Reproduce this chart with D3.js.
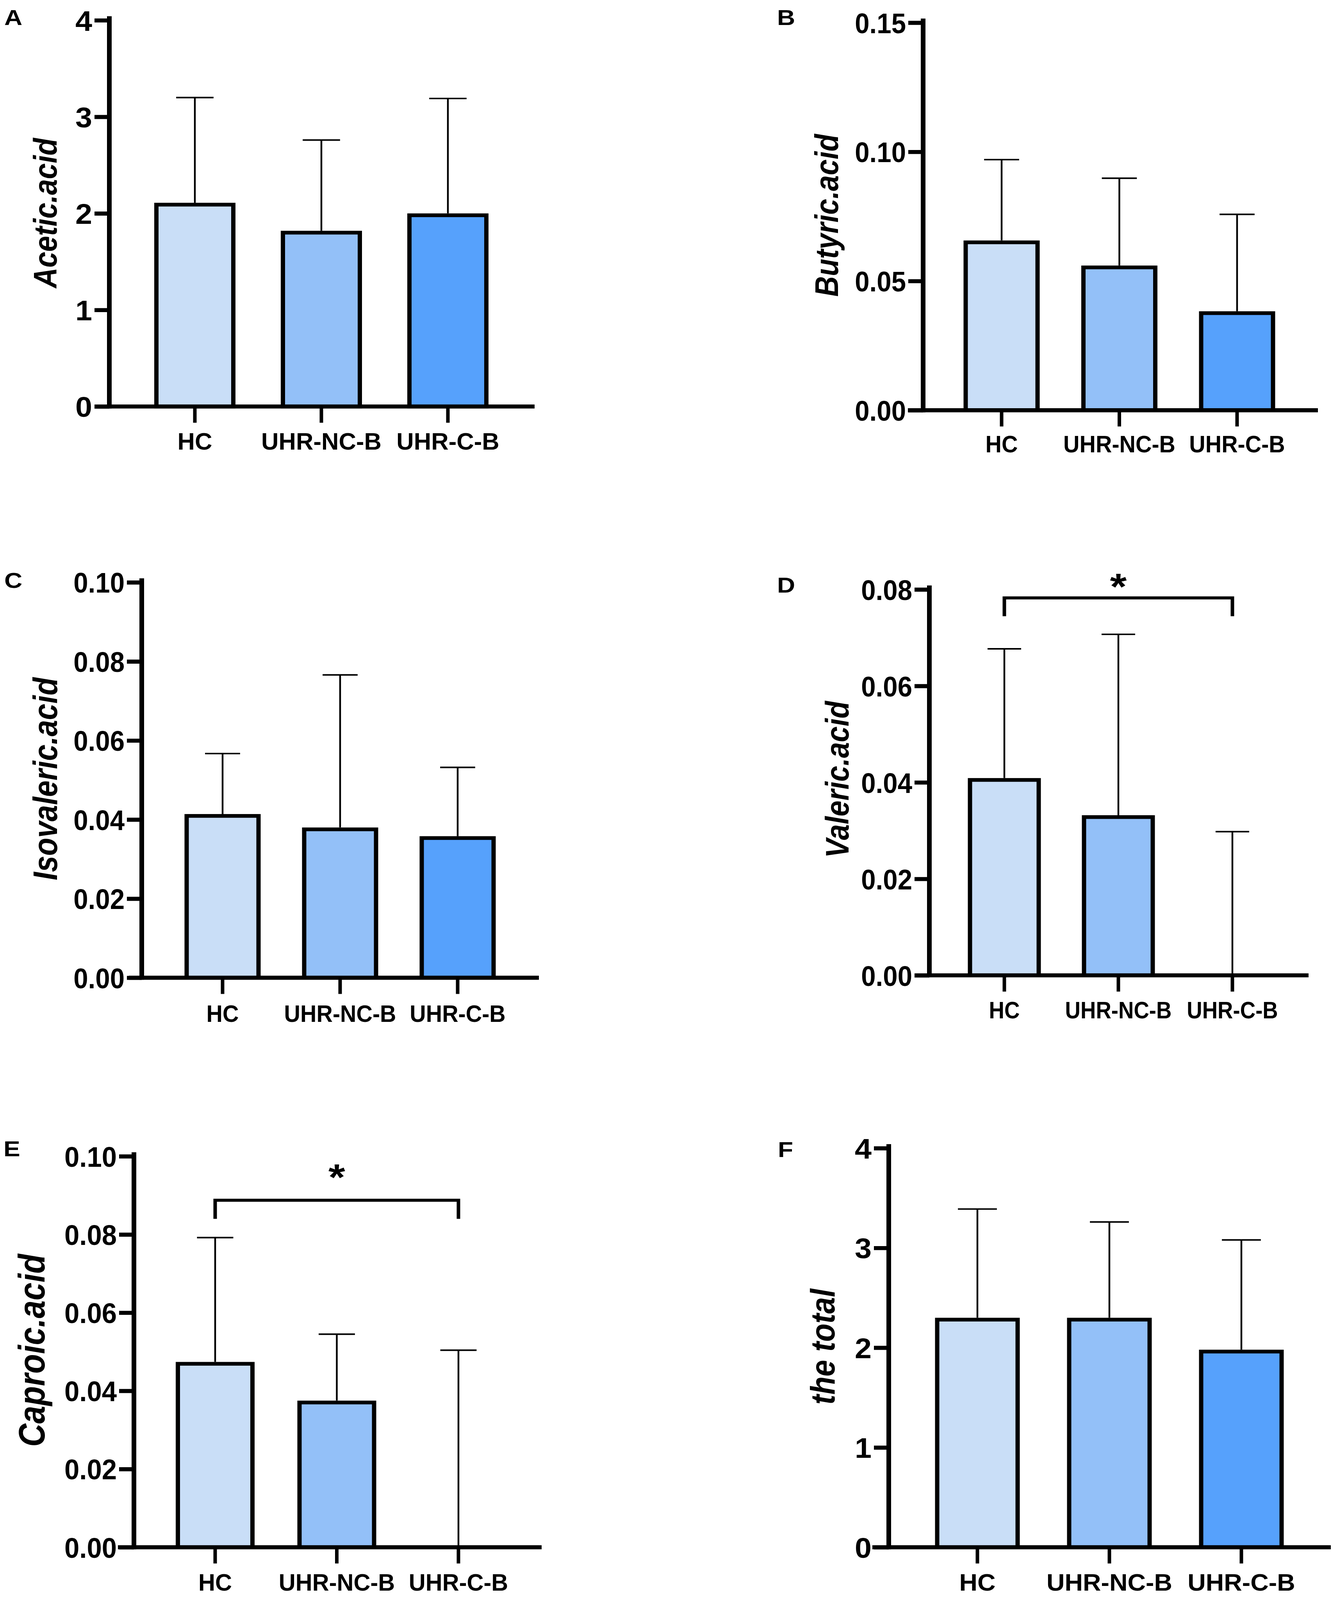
<!DOCTYPE html>
<html>
<head>
<meta charset="utf-8">
<script src="https://cdn.jsdelivr.net/npm/d3@7"></script>
<style>
  html, body { margin: 0; padding: 0; background: #ffffff; overflow: hidden; }
  svg { display: block; }
</style>
</head>
<body>
<script>
// ---------------- data ----------------
const categories = ["HC", "UHR-NC-B", "UHR-C-B"];
const barColors = ["#c9def7", "#93c0f8", "#56a1fc"];

const aceticMean = [2.11, 1.82, 2.00];
const aceticSD = [1.09, 0.94, 1.19];
const aceticTicks = [0, 1, 2, 3, 4];

const butyricMean = [0.0657, 0.0560, 0.0383];
const butyricSD = [0.0313, 0.0338, 0.0375];
const butyricTicks = [0, 0.05, 0.10, 0.15];

const isovalericMean = [0.0414, 0.0380, 0.0358];
const isovalericSD = [0.0153, 0.0386, 0.0174];
const isovalericTicks = [0, 0.02, 0.04, 0.06, 0.08, 0.10];

const valericMean = [0.0409, 0.0332, 0];
const valericSD = [0.0268, 0.0375, 0.0298];
const valericTicks = [0, 0.02, 0.04, 0.06, 0.08];

const caproicMean = [0.0474, 0.0375, 0];
const caproicSD = [0.0318, 0.0170, 0.0504];
const caproicTicks = [0, 0.02, 0.04, 0.06, 0.08, 0.10];

const totalMean = [2.30, 2.30, 1.98];
const totalSD = [1.09, 0.96, 1.10];
const totalTicks = [0, 1, 2, 3, 4];

// significance brackets: [fromCategory, toCategory, label]
const valericSig = ["HC", "UHR-C-B", "*"];
const caproicSig = ["HC", "UHR-C-B", "*"];

// ---------------- layout (design pixels, reference is 3429 x 4731) ----------------
const W = 3429, H = 4731;
const panels = [
  { letter: "A", title: "Acetic.acid", mean: aceticMean, sd: aceticSD, ticks: aceticTicks, fmt: "d",
    letterX: 11, letterY: 74, axisX: 280, yTop: 60, y0: 1202, xStart: 242, xEnd: 1369,
    c0: 499, c2: 1147, barW: 208, titleX: 115, titleY: 630, titleFont: 84, catY: 1329,
    tickSq: 0.92, catSq: 0.88 },
  { letter: "B", title: "Butyric.acid", mean: butyricMean, sd: butyricSD, ticks: butyricTicks, fmt: ".2f",
    letterX: 1990, letterY: 74, axisX: 2364, yTop: 67, y0: 1213, xStart: 2325, xEnd: 3375,
    c0: 2565, c2: 3168, barW: 195, titleX: 2116, titleY: 637, titleFont: 84, catY: 1338,
    tickSq: 0.8, catSq: 0.82 },
  { letter: "C", title: "Isovaleric.acid", mean: isovalericMean, sd: isovalericSD, ticks: isovalericTicks, fmt: ".2f",
    letterX: 11, letterY: 1738, axisX: 363, yTop: 1722, y0: 2891, xStart: 330, xEnd: 1380,
    c0: 570, c2: 1172, barW: 195, titleX: 115, titleY: 2303, titleFont: 87, catY: 3021,
    tickSq: 0.8, catSq: 0.82 },
  { letter: "D", title: "Valeric.acid", mean: valericMean, sd: valericSD, ticks: valericTicks, fmt: ".2f",
    letterX: 1990, letterY: 1752, axisX: 2380, yTop: 1743, y0: 2884, xStart: 2342, xEnd: 3351,
    c0: 2572, c2: 3156, barW: 187, titleX: 2143, titleY: 2305, titleFont: 84, catY: 3011,
    tickSq: 0.8, catSq: 0.78,
    sig: valericSig, sigY: 1768, sigDrop: 54, starY: 1710 },
  { letter: "E", title: "Caproic.acid", mean: caproicMean, sd: caproicSD, ticks: caproicTicks, fmt: ".2f",
    letterX: 9, letterY: 3419, axisX: 343, yTop: 3419, y0: 4575, xStart: 302, xEnd: 1387,
    c0: 551, c2: 1174, barW: 202, titleX: 80, titleY: 3993, titleFont: 95, catY: 4703,
    tickSq: 0.82, catSq: 0.85,
    sig: caproicSig, sigY: 3549, sigDrop: 55, starY: 3456 },
  { letter: "F", title: "the total", mean: totalMean, sd: totalSD, ticks: totalTicks, fmt: "d",
    letterX: 1992, letterY: 3421, axisX: 2276, yTop: 3395, y0: 4575, xStart: 2234, xEnd: 3408,
    c0: 2503, c2: 3179, barW: 217, titleX: 2105, titleY: 3982, titleFont: 88, catY: 4703,
    tickSq: 0.92, catSq: 0.92 }
];

const AXIS_W = 12, BAR_STROKE = 11, ERR_W = 4.5, TICK_LEN = 38, TICK_PAD = 6, XTICK_LEN = 48, XTICK_W = 9;
const sans = '"Liberation Sans", Arial, "DejaVu Sans", sans-serif';
const TICK_FONT = 84, CAT_FONT = 70;

// The design canvas is 3429 x 4731; fit it to whatever viewport the browser gives.
const vw = window.innerWidth || W, vh = window.innerHeight || H;
const svg = d3.select("body").append("svg")
  .attr("width", vw).attr("height", vh)
  .attr("viewBox", `0 0 ${W} ${H}`)
  .attr("preserveAspectRatio", "none");
svg.append("rect").attr("width", W).attr("height", H).attr("fill", "#fff");

panels.forEach(p => {
  const g = svg.append("g");
  const ymax = p.ticks[p.ticks.length - 1];
  const y = d3.scaleLinear().domain([0, ymax]).range([p.y0, p.yTop]);
  const x = d3.scalePoint().domain(categories).range([p.c0, p.c2]);

  const rows = categories.map((c, i) => ({ cat: c, mean: p.mean[i], sd: p.sd[i], color: barColors[i] }));

  // error bars (upper SD only)
  const capW = p.barW * 0.46;
  const eb = g.append("g").attr("stroke", "#000").attr("stroke-width", ERR_W).attr("fill", "none");
  eb.selectAll("line.v").data(rows).join("line").attr("class", "v")
    .attr("x1", d => x(d.cat)).attr("x2", d => x(d.cat))
    .attr("y1", d => y(d.mean)).attr("y2", d => y(d.mean + d.sd));
  eb.selectAll("line.cap").data(rows).join("line").attr("class", "cap")
    .attr("x1", d => x(d.cat) - capW / 2).attr("x2", d => x(d.cat) + capW / 2)
    .attr("y1", d => y(d.mean + d.sd)).attr("y2", d => y(d.mean + d.sd));

  // bars
  g.append("g").selectAll("rect").data(rows.filter(d => d.mean > 0)).join("rect")
    .attr("x", d => x(d.cat) - p.barW / 2 + BAR_STROKE / 2)
    .attr("width", p.barW - BAR_STROKE)
    .attr("y", d => y(d.mean) + BAR_STROKE / 2)
    .attr("height", d => y(0) - y(d.mean) - BAR_STROKE / 2)
    .attr("fill", d => d.color)
    .attr("stroke", "#000").attr("stroke-width", BAR_STROKE);

  // y axis
  const yAxis = d3.axisLeft(y).tickValues(p.ticks).tickSize(TICK_LEN).tickSizeOuter(0)
    .tickPadding(TICK_PAD).tickFormat(d3.format(p.fmt));
  const ag = g.append("g").attr("transform", `translate(${p.axisX},0)`).call(yAxis);
  ag.select(".domain").attr("stroke-width", AXIS_W).attr("stroke-linecap", "square")
    .attr("d", `M0,${p.y0}V${p.yTop - AXIS_W / 2}`);
  ag.selectAll(".tick line").attr("stroke-width", AXIS_W);
  ag.selectAll(".tick text").attr("font-size", TICK_FONT).attr("fill", "#000")
    .attr("dy", "0.36em").style("font-family", sans).style("font-weight", "bold")
    .attr("x", -(TICK_LEN + TICK_PAD) / p.tickSq)
    .attr("transform", `scale(${p.tickSq},1)`);

  // x axis line and ticks
  g.append("line").attr("x1", p.xStart).attr("x2", p.xEnd).attr("y1", p.y0).attr("y2", p.y0)
    .attr("stroke", "#000").attr("stroke-width", AXIS_W);
  g.append("g").selectAll("line").data(categories).join("line")
    .attr("x1", d => x(d)).attr("x2", d => x(d))
    .attr("y1", p.y0).attr("y2", p.y0 + XTICK_LEN)
    .attr("stroke", "#000").attr("stroke-width", XTICK_W);
  g.append("g").selectAll("text").data(categories).join("text")
    .attr("transform", d => `translate(${x(d)},${p.catY}) scale(${p.catSq},1)`)
    .attr("text-anchor", "middle")
    .style("font-family", sans).style("font-weight", "bold").attr("font-size", CAT_FONT)
    .text(d => d);

  // y title
  g.append("text")
    .attr("transform", `translate(${p.titleX},${p.titleY}) rotate(-90)`)
    .attr("text-anchor", "middle").attr("dy", "0.36em")
    .style("font-family", sans).style("font-weight", "bold").style("font-style", "italic")
    .attr("font-size", p.titleFont).text(p.title);

  // panel letter
  g.append("text").attr("x", p.letterX).attr("y", p.letterY)
    .style("font-family", sans).style("font-weight", "bold").attr("font-size", 64)
    .text(p.letter);

  // significance bracket
  if (p.sig) {
    const xa = x(p.sig[0]), xb = x(p.sig[1]);
    g.append("path")
      .attr("d", `M${xa},${p.sigY + p.sigDrop}V${p.sigY}H${xb}V${p.sigY + p.sigDrop}`)
      .attr("fill", "none").attr("stroke", "#000").attr("stroke-width", 9);
    g.append("text").attr("x", (xa + xb) / 2).attr("y", p.starY + 62)
      .attr("text-anchor", "middle")
      .style("font-family", sans).style("font-weight", "bold").attr("font-size", 110)
      .text(p.sig[2]);
  }
});
</script>
</body>
</html>
